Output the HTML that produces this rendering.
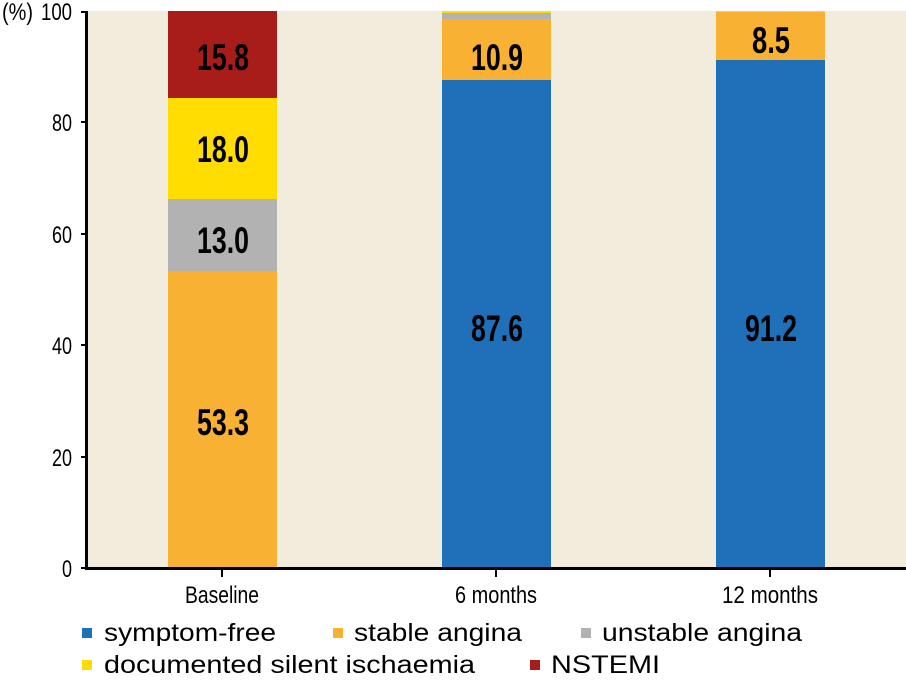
<!DOCTYPE html>
<html><head><meta charset="utf-8"><style>
html,body{margin:0;padding:0;background:#fff;width:906px;height:683px;overflow:hidden}
svg{display:block}
text{font-family:"Liberation Sans",sans-serif}
</style></head><body>
<svg width="906" height="683" viewBox="0 0 906 683">
<rect x="87" y="11" width="819" height="557" fill="#f1ecdb"/>
<rect x="168" y="271" width="109" height="297" fill="#f8b133"/>
<rect x="168" y="199" width="109" height="72" fill="#b2b2b2"/>
<rect x="168" y="98" width="109" height="101" fill="#ffdd00"/>
<rect x="168" y="11" width="109" height="87" fill="#a81c1a"/>
<rect x="442" y="80" width="109" height="488" fill="#1f70b8"/>
<rect x="442" y="19" width="109" height="61" fill="#f8b133"/>
<rect x="442" y="13" width="109" height="6" fill="#b2b2b2"/>
<rect x="442" y="11" width="109" height="2" fill="#ffdd00"/>
<rect x="716" y="60" width="109" height="508" fill="#1f70b8"/>
<rect x="716" y="12" width="109" height="48" fill="#f8b133"/>
<rect x="716" y="11" width="109" height="1" fill="#ffdd00"/>
<rect x="85" y="11" width="3" height="559" fill="#000"/>
<rect x="85" y="567" width="821" height="3" fill="#000"/>
<g stroke="#000" stroke-width="2">
<line x1="81" y1="12" x2="86" y2="12"/><line x1="81" y1="122" x2="86" y2="122"/>
<line x1="81" y1="234" x2="86" y2="234"/><line x1="81" y1="345" x2="86" y2="345"/>
<line x1="81" y1="457" x2="86" y2="457"/><line x1="81" y1="568" x2="86" y2="568"/>
<line x1="222" y1="569" x2="222" y2="577"/><line x1="496" y1="569" x2="496" y2="577"/><line x1="770" y1="569" x2="770" y2="577"/>
</g>
<g font-size="24" text-anchor="end" fill="#000">
<text x="72" y="20" textLength="31" lengthAdjust="spacingAndGlyphs">100</text>
<text x="72" y="131" textLength="20" lengthAdjust="spacingAndGlyphs">80</text>
<text x="72" y="243" textLength="20" lengthAdjust="spacingAndGlyphs">60</text>
<text x="72" y="354" textLength="20" lengthAdjust="spacingAndGlyphs">40</text>
<text x="72" y="466" textLength="20" lengthAdjust="spacingAndGlyphs">20</text>
<text x="72" y="577" textLength="10" lengthAdjust="spacingAndGlyphs">0</text>
<text x="33" y="20" textLength="31" lengthAdjust="spacingAndGlyphs">(%)</text>
</g>
<g font-size="24" text-anchor="middle" fill="#000">
<text x="222" y="603" textLength="74" lengthAdjust="spacingAndGlyphs">Baseline</text>
<text x="496" y="603" textLength="82" lengthAdjust="spacingAndGlyphs">6 months</text>
<text x="770" y="603" textLength="96" lengthAdjust="spacingAndGlyphs">12  months</text>
</g>
<g font-size="37" font-weight="bold" text-anchor="middle" fill="#000">
<text x="223" y="70" textLength="52" lengthAdjust="spacingAndGlyphs">15.8</text>
<text x="223" y="162" textLength="52" lengthAdjust="spacingAndGlyphs">18.0</text>
<text x="223" y="253" textLength="52" lengthAdjust="spacingAndGlyphs">13.0</text>
<text x="223" y="435" textLength="52" lengthAdjust="spacingAndGlyphs">53.3</text>
<text x="497" y="341" textLength="52" lengthAdjust="spacingAndGlyphs">87.6</text>
<text x="771" y="341" textLength="52" lengthAdjust="spacingAndGlyphs">91.2</text>
<text x="497" y="70" textLength="52" lengthAdjust="spacingAndGlyphs">10.9</text>
<text x="771" y="53" textLength="38" lengthAdjust="spacingAndGlyphs">8.5</text>
</g>
<rect x="82" y="628" width="10" height="10" fill="#1f70b8"/>
<rect x="333" y="628" width="10" height="10" fill="#f8b133"/>
<rect x="581" y="628" width="10" height="10" fill="#b2b2b2"/>
<rect x="82" y="660" width="10" height="10" fill="#ffdd00"/>
<rect x="530" y="660" width="10" height="10" fill="#a81c1a"/>
<g font-size="25" fill="#000">
<text x="104" y="641" textLength="172" lengthAdjust="spacingAndGlyphs">symptom-free</text>
<text x="354" y="641" textLength="168" lengthAdjust="spacingAndGlyphs">stable angina</text>
<text x="602" y="641" textLength="200" lengthAdjust="spacingAndGlyphs">unstable angina</text>
<text x="104" y="673" textLength="371" lengthAdjust="spacingAndGlyphs">documented silent ischaemia</text>
<text x="551" y="673" textLength="109" lengthAdjust="spacingAndGlyphs">NSTEMI</text>
</g>
</svg>
</body></html>
